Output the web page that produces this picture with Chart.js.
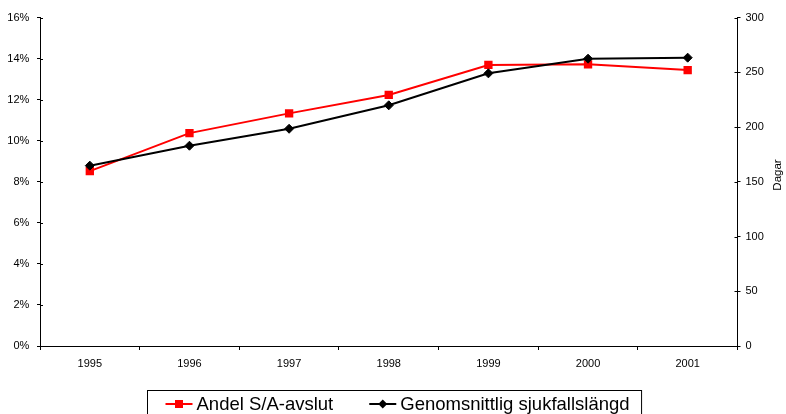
<!DOCTYPE html>
<html>
<head>
<meta charset="utf-8">
<script src="https://cdn.jsdelivr.net/npm/chart.js@4/dist/chart.umd.min.js"></script>
<style>
  html, body { margin: 0; padding: 0; background: #fff; }
  #wrap { width: 786px; height: 414px; position: relative; }
</style>
</head>
<body>
<div id="wrap"><canvas id="c" width="786" height="414"></canvas></div>
<script>
// Years on the category axis
const years = ['1995', '1996', '1997', '1998', '1999', '2000', '2001'];
// Share of S/A closures, percent (left axis)
const andelSA = [8.52, 10.37, 11.33, 12.23, 13.69, 13.72, 13.44];
// Average sick-leave duration, days (right axis)
const sjukfallslangd = [164.7, 182.9, 198.4, 219.8, 249.0, 262.4, 263.3];
// Axis ranges and tick steps
const leftAxis = { min: 0, max: 16, step: 2 };
const rightAxis = { min: 0, max: 300, step: 50 };
const rightTitle = 'Dagar';

const FONT = '"Liberation Sans", Arial, sans-serif';
Chart.defaults.font.family = FONT;
Chart.defaults.color = '#000';

// Short tick stubs inside the plot for the value axes (ticks cross the axis line)
const innerTicks = {
  id: 'innerTicks',
  afterDatasetsDraw(chart) {
    const ctx = chart.ctx;
    ctx.save();
    ctx.strokeStyle = '#000';
    ctx.lineWidth = 1;
    ['y', 'y1'].forEach(id => {
      const s = chart.scales[id];
      const x = id === 'y' ? s.right : s.left;
      const dir = id === 'y' ? 1 : -1;
      s.ticks.forEach((t, i) => {
        const py = Math.round(s.getPixelForTick(i)) + 0.5;
        ctx.beginPath();
        ctx.moveTo(x, py);
        ctx.lineTo(x + dir * 3, py);
        ctx.stroke();
      });
    });
    ctx.restore();
  }
};

// Rotated right-axis title and boxed legend below the chart
const extras = {
  id: 'extras',
  afterDraw(chart) {
    const ctx = chart.ctx;
    ctx.save();
    // axis title, reading bottom to top
    ctx.font = '11.5px ' + FONT;
    ctx.fillStyle = '#000';
    ctx.textAlign = 'center';
    ctx.textBaseline = 'middle';
    ctx.translate(777.5, 175);
    ctx.rotate(-Math.PI / 2);
    ctx.fillText(rightTitle, 0, 0);
    ctx.restore();

    // legend
    ctx.save();
    ctx.font = '18.5px ' + FONT;
    const ds = chart.data.datasets;
    const symW = 27, symGap = 4, itemGap = 36, padL = 18, padR = 12;
    const widths = ds.map(d => ctx.measureText(d.label).width);
    let total = padL + padR;
    widths.forEach((w, i) => { total += symW + symGap + w + (i ? itemGap : 0); });
    const boxL = Math.round(394.5 - total / 2) + 0.5;
    const boxT = 390.5;
    ctx.strokeStyle = '#000';
    ctx.lineWidth = 1;
    ctx.strokeRect(boxL, boxT, total, 40);
    const cy = 404;
    let x = boxL + padL;
    ds.forEach((d, i) => {
      if (i) x += itemGap;
      ctx.strokeStyle = d.borderColor;
      ctx.lineWidth = 2;
      ctx.beginPath();
      ctx.moveTo(x, cy);
      ctx.lineTo(x + symW, cy);
      ctx.stroke();
      const mx = x + symW / 2;
      ctx.fillStyle = d.pointBackgroundColor;
      ctx.beginPath();
      if (d.pointStyle === 'rect') {
        ctx.rect(mx - 4, cy - 4, 8, 8);
      } else {
        ctx.moveTo(mx, cy - 4.5);
        ctx.lineTo(mx + 4.5, cy);
        ctx.lineTo(mx, cy + 4.5);
        ctx.lineTo(mx - 4.5, cy);
        ctx.closePath();
      }
      ctx.fill();
      x += symW + symGap;
      ctx.fillStyle = '#000';
      ctx.textAlign = 'left';
      ctx.textBaseline = 'alphabetic';
      ctx.fillText(d.label, x, 410);
      x += widths[i];
    });
    ctx.restore();
  }
};

new Chart(document.getElementById('c'), {
  type: 'line',
  data: {
    labels: years,
    datasets: [
      {
        label: 'Andel S/A-avslut',
        data: andelSA,
        yAxisID: 'y',
        borderColor: '#ff0000',
        backgroundColor: '#ff0000',
        pointBackgroundColor: '#ff0000',
        pointBorderColor: '#ff0000',
        pointStyle: 'rect',
        pointRadius: 5.9,
        pointBorderWidth: 0,
        borderWidth: 2,
        tension: 0,
        order: 2
      },
      {
        label: 'Genomsnittlig sjukfallslängd',
        data: sjukfallslangd,
        yAxisID: 'y1',
        borderColor: '#000000',
        backgroundColor: '#000000',
        pointBackgroundColor: '#000000',
        pointBorderColor: '#000000',
        pointStyle: 'rectRot',
        pointRadius: 4.5,
        pointBorderWidth: 1,
        borderWidth: 2,
        tension: 0,
        order: 1
      }
    ]
  },
  options: {
    responsive: false,
    animation: false,
    devicePixelRatio: 1,
    layout: { padding: { top: 17.5, left: 0, right: 0, bottom: 0 } },
    plugins: { legend: { display: false }, tooltip: { enabled: false } },
    scales: {
      x: {
        type: 'category',
        offset: true,
        grid: { display: true, offset: true, drawOnChartArea: false, drawTicks: true, tickLength: 4, color: '#000' },
        border: { display: true, color: '#000', width: 1 },
        ticks: { font: { size: 11 }, color: '#000', padding: 7, maxRotation: 0 },
        afterFit(s) { s.height = 68; }
      },
      y: {
        position: 'left',
        min: leftAxis.min, max: leftAxis.max,
        grid: { drawOnChartArea: false, drawTicks: true, tickLength: 3, color: '#000' },
        border: { display: true, color: '#000', width: 1 },
        ticks: { stepSize: leftAxis.step, font: { size: 11 }, color: '#000', padding: 7.7,
                 callback: v => v + '%' },
        afterFit(s) { s.width = 40; }
      },
      y1: {
        position: 'right',
        min: rightAxis.min, max: rightAxis.max,
        grid: { drawOnChartArea: false, drawTicks: true, tickLength: 3, color: '#000' },
        border: { display: true, color: '#000', width: 1 },
        ticks: { stepSize: rightAxis.step, font: { size: 11 }, color: '#000', padding: 5 },
        afterFit(s) { s.width = 48.5; }
      }
    }
  },
  plugins: [innerTicks, extras]
});
</script>
</body>
</html>
